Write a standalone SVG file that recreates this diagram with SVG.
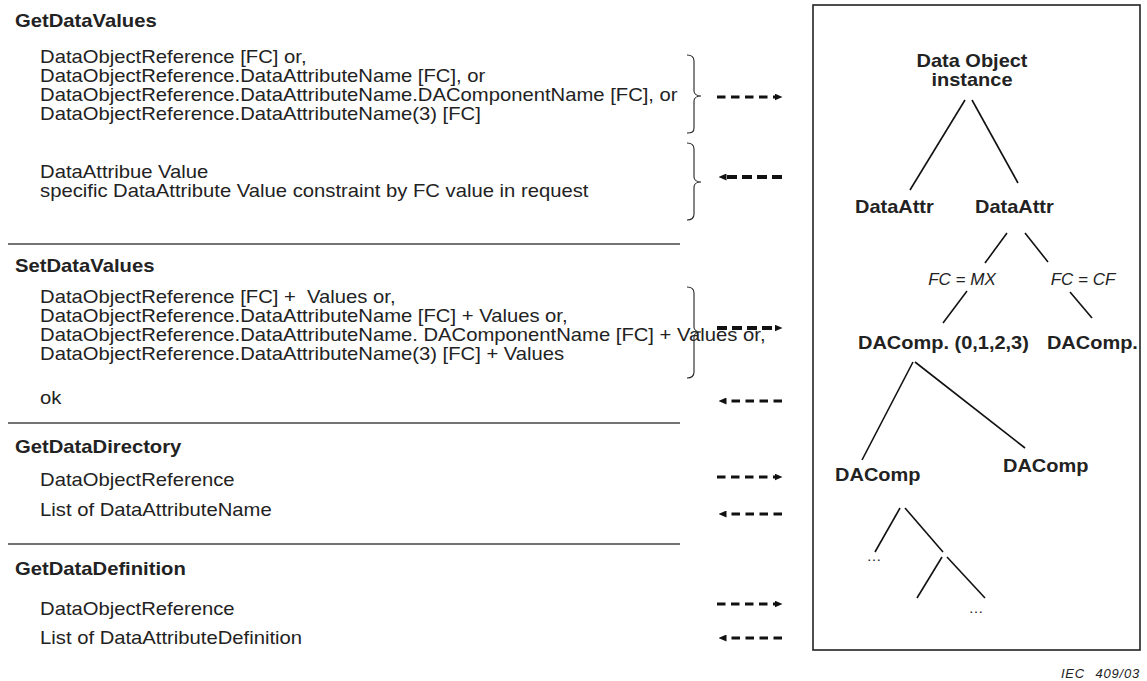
<svg xmlns="http://www.w3.org/2000/svg" width="1147" height="681" viewBox="0 0 1147 681">
  <style>
    text { font-family: "Liberation Sans", Arial, sans-serif; fill: #222; }
    .h { font-size: 18px; font-weight: bold; }
    .b { font-size: 18px; }
    .n { font-size: 18px; font-weight: bold; }
    .fc { font-size: 17px; font-style: italic; }
    .dots { font-size: 15px; }
    .tag { font-size: 13px; font-style: italic; letter-spacing: 0.8px; }
    .sep { stroke: #444; stroke-width: 1.3; }
    .edge { stroke: #111; stroke-width: 1.6; fill: none; }
    .brace { stroke: #222; stroke-width: 1.1; fill: none; }
    .req { stroke: #111; stroke-width: 3; stroke-dasharray: 8.5 5.5; marker-end: url(#head); }
    .req-bold { stroke: #111; stroke-width: 4; stroke-dasharray: 10 5; marker-end: url(#head); }
    .rsp { stroke: #111; stroke-width: 3; stroke-dasharray: 8.5 5.5; marker-end: url(#head); }
    .rsp-bold { stroke: #111; stroke-width: 4; stroke-dasharray: 10 5; marker-end: url(#head); }
  </style>
  <defs>
    <marker id="head" viewBox="0 0 8 7" refX="0.5" refY="3.5" markerWidth="8" markerHeight="7" markerUnits="userSpaceOnUse" orient="auto">
      <path d="M0,0 L8,3.5 L0,7 Z" fill="#111"/>
    </marker>
  </defs>
  <rect width="1147" height="681" fill="#fff"/>

  <!-- service sections (text is slightly widened horizontally) -->
  <g id="svc-getdatavalues" transform="scale(1.125 1)">
    <text class="h" x="13.3" y="27">GetDataValues</text>
    <text class="b" x="35.6" y="63">DataObjectReference [FC] or,</text>
    <text class="b" x="35.6" y="82">DataObjectReference.DataAttributeName [FC], or</text>
    <text class="b" x="35.6" y="101">DataObjectReference.DataAttributeName.DAComponentName [FC], or</text>
    <text class="b" x="35.6" y="120">DataObjectReference.DataAttributeName(3) [FC]</text>
    <text class="b" x="35.6" y="178">DataAttribue Value</text>
    <text class="b" x="35.6" y="197">specific DataAttribute Value constraint by FC value in request</text>
  </g>
  <g id="svc-setdatavalues" transform="scale(1.125 1)">
    <text class="h" x="13.3" y="272">SetDataValues</text>
    <text class="b" x="35.6" y="303" xml:space="preserve">DataObjectReference [FC] +  Values or,</text>
    <text class="b" x="35.6" y="322">DataObjectReference.DataAttributeName [FC] + Values or,</text>
    <text class="b" x="35.6" y="341">DataObjectReference.DataAttributeName. DAComponentName [FC] + Values or,</text>
    <text class="b" x="35.6" y="360">DataObjectReference.DataAttributeName(3) [FC] + Values</text>
    <text class="b" x="35.6" y="404">ok</text>
  </g>
  <g id="svc-getdatadirectory" transform="scale(1.125 1)">
    <text class="h" x="13.3" y="453">GetDataDirectory</text>
    <text class="b" x="35.6" y="486">DataObjectReference</text>
    <text class="b" x="35.6" y="516">List of DataAttributeName</text>
  </g>
  <g id="svc-getdatadefinition" transform="scale(1.125 1)">
    <text class="h" x="13.3" y="575">GetDataDefinition</text>
    <text class="b" x="35.6" y="615">DataObjectReference</text>
    <text class="b" x="35.6" y="644">List of DataAttributeDefinition</text>
  </g>

  <!-- section separators -->
  <g id="separators">
    <line class="sep" x1="8" y1="244" x2="680" y2="244"/>
    <line class="sep" x1="8" y1="423" x2="680" y2="423"/>
    <line class="sep" x1="8" y1="544" x2="680" y2="544"/>
  </g>

  <!-- data object tree -->
  <g id="tree-frame">
    <rect x="813" y="5" width="327" height="645" fill="none" stroke="#222" stroke-width="1.6"/>
  </g>
  <g id="node-do" transform="scale(1.11 1)">
    <text class="n" x="875.7" y="67" text-anchor="middle">Data Object</text>
    <text class="n" x="875.7" y="86" text-anchor="middle">instance</text>
  </g>
  <g id="node-da1" transform="scale(1.11 1)">
    <text class="n" x="770.3" y="213">DataAttr</text>
  </g>
  <g id="node-da2" transform="scale(1.11 1)">
    <text class="n" x="878.4" y="213">DataAttr</text>
  </g>
  <g id="label-mx">
    <text class="fc" x="962" y="285" text-anchor="middle">FC = MX</text>
  </g>
  <g id="label-cf">
    <text class="fc" x="1083" y="285" text-anchor="middle">FC = CF</text>
  </g>
  <g id="node-dac-mx" transform="scale(1.11 1)">
    <text class="n" x="773" y="349">DAComp. (0,1,2,3)</text>
  </g>
  <g id="node-dac-cf" transform="scale(1.11 1)">
    <text class="n" x="943.2" y="349">DAComp.</text>
  </g>
  <g id="node-dac-a" transform="scale(1.11 1)">
    <text class="n" x="752.3" y="481">DAComp</text>
  </g>
  <g id="node-dac-b" transform="scale(1.11 1)">
    <text class="n" x="903.6" y="472">DAComp</text>
  </g>
  <g id="node-more-a">
    <text class="dots" x="874" y="561" text-anchor="middle">…</text>
  </g>
  <g id="node-more-b">
    <text class="dots" x="976" y="613" text-anchor="middle">…</text>
  </g>

  <g id="connectors">
    <!-- tree edges -->
    <line class="edge" x1="965" y1="100" x2="910" y2="190"/>
    <line class="edge" x1="972" y1="100" x2="1018" y2="183"/>
    <line class="edge" x1="1007" y1="233" x2="985" y2="263"/>
    <line class="edge" x1="1025" y1="233" x2="1048" y2="262"/>
    <line class="edge" x1="967" y1="291" x2="943" y2="323"/>
    <line class="edge" x1="1070" y1="292" x2="1092" y2="318"/>
    <line class="edge" x1="913" y1="362" x2="862" y2="460"/>
    <line class="edge" x1="915" y1="362" x2="1025" y2="448"/>
    <line class="edge" x1="900" y1="508" x2="875" y2="552"/>
    <line class="edge" x1="905" y1="508" x2="943" y2="552"/>
    <line class="edge" x1="942" y1="557" x2="917" y2="598"/>
    <line class="edge" x1="947" y1="557" x2="985" y2="598"/>

    <!-- braces grouping request / response lines -->
    <path class="brace" d="M687,55 C692,55 694,57 694,61 L694,91 C694,94 697,96 701,96 C697,96 694,98 694,101 L694,128 C694,132 692,133 687,133"/>
    <path class="brace" d="M687,143 C692,143 694,145 694,149 L694,177 C694,180 697,182 701,182 C697,182 694,184 694,187 L694,214 C694,218 692,220 687,220"/>
    <path class="brace" d="M687,287 C692,287 694,289 694,293 L694,327 C694,330 697,332 701,332 C697,332 694,334 694,337 L694,372 C694,376 692,378 687,378"/>

    <!-- service request (right) and response (left) arrows -->
    <line class="req" x1="717" y1="97" x2="775" y2="97"/>
    <line class="rsp-bold" x1="782" y1="177" x2="726" y2="177"/>
    <line class="req-bold" x1="717" y1="328" x2="775" y2="328"/>
    <line class="rsp" x1="782" y1="401" x2="726" y2="401"/>
    <line class="req" x1="717" y1="477" x2="775" y2="477"/>
    <line class="rsp" x1="782" y1="514" x2="726" y2="514"/>
    <line class="req" x1="717" y1="604" x2="775" y2="604"/>
    <line class="rsp" x1="782" y1="638" x2="726" y2="638"/>
  </g>

  <text class="tag" x="1140" y="678" text-anchor="end">IEC <tspan dx="6">409/03</tspan></text>
</svg>
